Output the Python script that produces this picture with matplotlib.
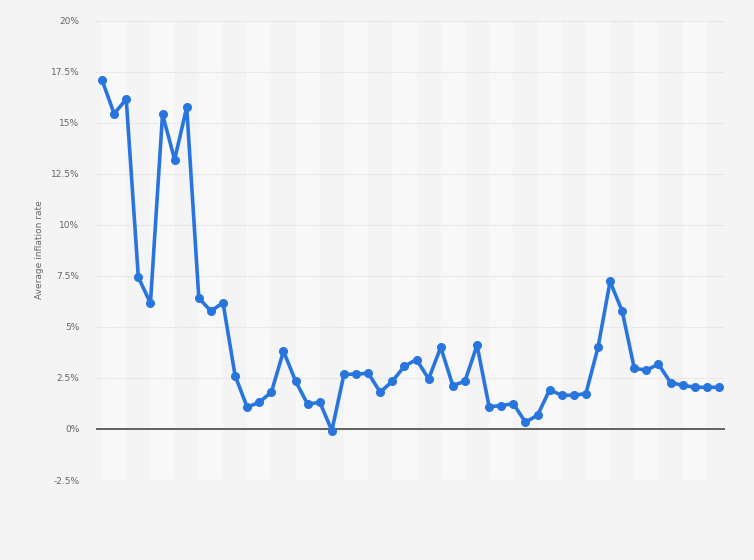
import matplotlib.pyplot as plt
import numpy as np

# average inflation rate (%), one value per year, no year labels shown
inflation = [
    17.08, 15.44, 16.14, 7.43, 6.16, 15.41, 13.19, 15.75, 6.41, 5.77,
    6.18, 2.61, 1.06, 1.31, 1.80, 3.81, 2.34, 1.21, 1.31, -0.08,
    2.68, 2.68, 2.73, 1.80, 2.34, 3.07, 3.40, 2.45, 4.00, 2.12,
    2.34, 4.10, 1.09, 1.14, 1.24, 0.33, 0.67, 1.91, 1.65, 1.65,
    1.73, 3.99, 7.22, 5.77, 2.97, 2.88, 3.17, 2.27, 2.14, 2.04,
    2.04, 2.04,
]
y_ticks = [-2.5, 0, 2.5, 5, 7.5, 10, 12.5, 15, 17.5, 20]
y_label = "Average inflation rate"


def fmt(v):
    return ("%g" % v) + "%"


def main():
    bg = "#f4f4f4"
    fig = plt.figure(figsize=(7.54, 5.6), dpi=100, facecolor=bg)
    ax = fig.add_axes([96 / 754, 80 / 560, 629 / 754, 459.5 / 560])
    ax.set_facecolor(bg)

    n = len(inflation)
    x = np.arange(n)

    # alternating light bands
    for k in range(0, n, 4):
        ax.axvspan(k, min(k + 2, n - 1), color="#f8f8f8", zorder=0, lw=0)

    for t in y_ticks:
        if t == 0:
            continue
        ax.axhline(t, color="#d9d9d9", lw=0.8, ls=(0, (1, 1.2)), zorder=1)
    ax.axhline(0, color="#555555", lw=1.3, zorder=2)

    ax.plot(x, inflation, color="#2876dd", lw=2.6, marker="o", ms=5.5,
            zorder=3, solid_joinstyle="round")

    ax.set_xlim(-0.5, n - 0.5)
    ax.set_ylim(-2.5, 20)
    ax.set_xticks([])
    ax.set_yticks(y_ticks)
    ax.set_yticklabels([fmt(t) for t in y_ticks])
    ax.tick_params(axis="y", length=0, pad=12, labelsize=6.5, labelcolor="#666666")
    for s in ax.spines.values():
        s.set_visible(False)

    fig.text(40 / 754, 1 - 250 / 560, y_label, rotation=90, ha="center",
             va="center", fontsize=6.5, color="#666666")

    plt.savefig("out.png", dpi=100, facecolor=bg)


if __name__ == "__main__":
    main()
